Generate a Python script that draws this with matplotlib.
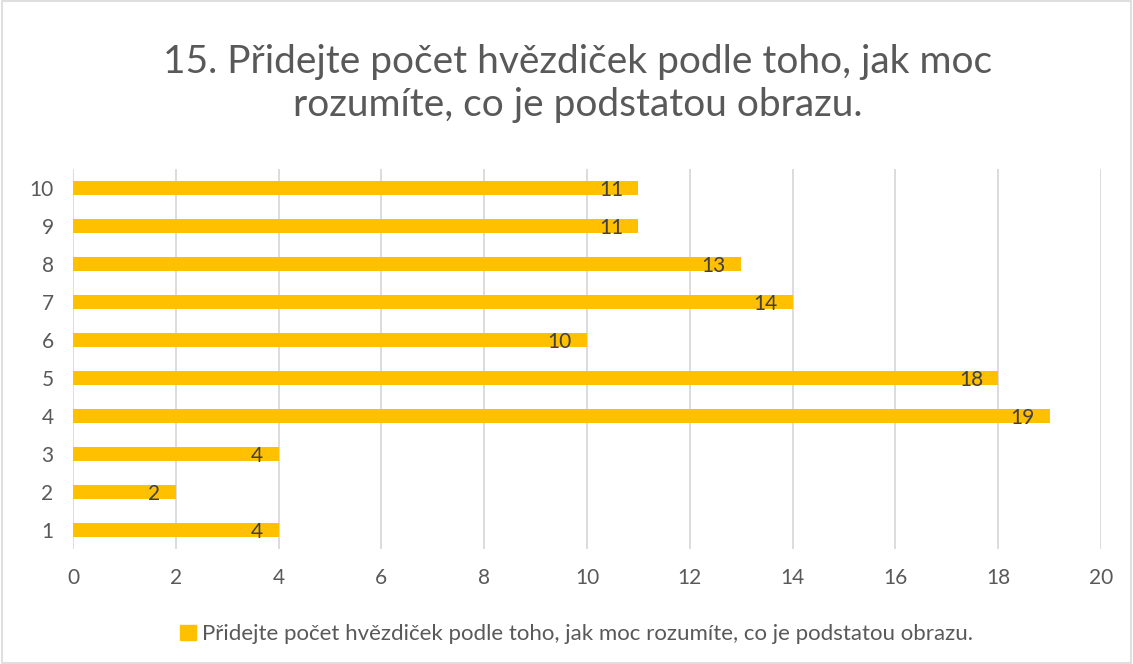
import matplotlib
matplotlib.use("Agg")
import matplotlib.pyplot as plt
import matplotlib.patches as mpatches

plt.rcParams["font.family"] = ["Lato", "DejaVu Sans"]

# Data
categories = ["1", "2", "3", "4", "5", "6", "7", "8", "9", "10"]
values = [4, 2, 4, 19, 18, 10, 14, 13, 11, 11]
series_name = "Přidejte počet hvězdiček podle toho, jak moc rozumíte, co je podstatou obrazu."
title = "15. Přidejte počet hvězdiček podle toho, jak moc\nrozumíte, co je podstatou obrazu."

BAR_COLOR = "#FFC000"
GRID_COLOR = "#D9D9D9"
TEXT_COLOR = "#595959"

fig = plt.figure(figsize=(11.33, 6.64), dpi=100)
ax = fig.add_axes([0.0644, 0.1732, 0.9074, 0.5723])

ypos = range(len(categories))
ax.barh(ypos, values, height=0.37, color=BAR_COLOR, zorder=3)

# data labels at the inside end of each bar, like Excel does
for y, v in zip(ypos, values):
    ax.annotate(str(v), xy=(v, y), xytext=(-11, -1.5), textcoords="offset points",
                ha="right", va="center", fontsize=15, color="#404040", zorder=4)

ax.set_xlim(0, 20)
ax.set_ylim(-0.5, len(categories) - 0.5)
ax.set_xticks(range(0, 21, 2))
ax.set_yticks(list(ypos))
ax.set_yticklabels(categories)
ax.tick_params(axis="both", length=0, labelsize=15, colors=TEXT_COLOR)
ax.tick_params(axis="x", pad=14)
ax.tick_params(axis="y", pad=14)
ax.grid(axis="x", color=GRID_COLOR, linewidth=1.3, zorder=0)
for s in ax.spines.values():
    s.set_visible(False)

fig.text(0.5095, 0.874, title, ha="center", va="center", fontsize=28,
         color=TEXT_COLOR, linespacing=1.25)

handle = mpatches.Patch(color=BAR_COLOR, label=series_name)
fig.legend(handles=[handle], loc="center", bbox_to_anchor=(0.509, 0.045),
           frameon=False, fontsize=16, labelcolor=TEXT_COLOR,
           handlelength=0.7, handleheight=0.7, handletextpad=0.3)

# light border around the whole chart area
fig.patches.append(mpatches.Rectangle((0.002, 0.002), 0.996, 0.996,
                                      transform=fig.transFigure, fill=False,
                                      edgecolor=GRID_COLOR, linewidth=1.2))

fig.savefig("out.png", dpi=100)
